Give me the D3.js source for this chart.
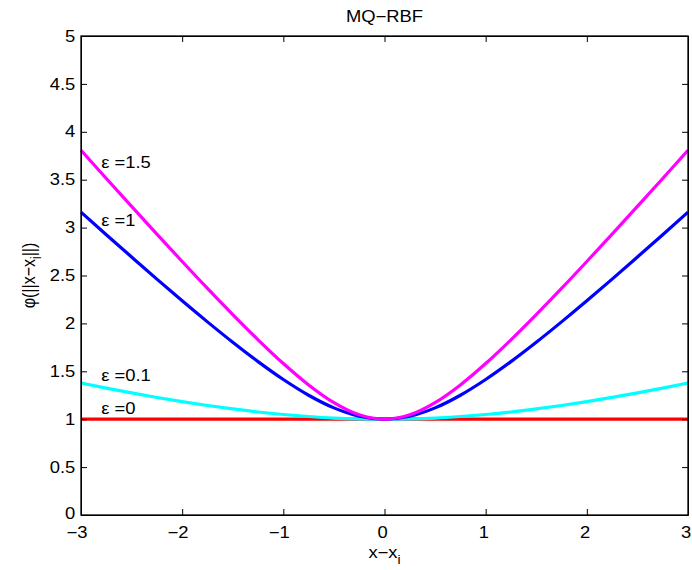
<!DOCTYPE html>
<html><head><meta charset="utf-8">
<script src="https://cdn.jsdelivr.net/npm/d3@7"></script>
<style>body{margin:0;background:#fff}svg{display:block}text{font-family:"Liberation Sans",Arial,sans-serif}</style>
</head><body>
<svg id="c" width="692" height="570"></svg>
<script>
const xs = [-3,-2.75,-2.5,-2.25,-2,-1.75,-1.5,-1.25,-1,-0.75,-0.5,-0.25,0,0.25,0.5,0.75,1,1.25,1.5,1.75,2,2.25,2.5,2.75,3];
const half15 = [1,1.046,1.173,1.358,1.581,1.829,2.092,2.365,2.646,2.932,3.221,3.513,3.808];
const half1  = [1,1.031,1.118,1.25,1.414,1.601,1.803,2.016,2.236,2.462,2.693,2.926,3.162];
const half01 = [1,1.003,1.012,1.028,1.049,1.075,1.107,1.143,1.183,1.227,1.275,1.325,1.378];
const half0  = [1,1,1,1,1,1,1,1,1,1,1,1,1];
const mirror = h => h.slice(1).reverse().concat(h);
const seriesNames = ["ε =0","ε =0.1","ε =1","ε =1.5"];
const seriesColors = ["#ff0000","#00ffff","#0000ff","#ff00ff"];
const seriesValues = [mirror(half0), mirror(half01), mirror(half1), mirror(half15)];
const labelPos = [[-2.8,1.05],[-2.8,1.4],[-2.8,3.02],[-2.8,3.62]];
const xTicks = [-3,-2,-1,0,1,2,3];
const yTicks = [0,0.5,1,1.5,2,2.5,3,3.5,4,4.5,5];

const SX = 1.15, FS = 16;
const svg = d3.select("#c");
const L=81, R=688, T=36, B=515;
const x = d3.scaleLinear().domain([-3,3]).range([L,R]);
const y = d3.scaleLinear().domain([0,5]).range([B,T]);
const fmt = d => (d<0?"\u2212":"")+Math.abs(d);

const line = d3.line().x((d,i)=>x(xs[i])).y(d=>y(d)).curve(d3.curveMonotoneX);
seriesValues.forEach((v,k)=>{
  svg.append("path").attr("d",line(v)).attr("fill","none")
    .attr("stroke",seriesColors[k]).attr("stroke-width",3.2);
});

const axStyle = g => {
  g.selectAll("path").attr("stroke","#000");
  g.selectAll("line").attr("stroke","#000");
  g.selectAll("text").attr("font-size",FS).attr("fill","#000")
   .attr("font-family","Liberation Sans, Arial, sans-serif")
   .attr("transform",`scale(${SX},1)`);
};
const gb = svg.append("g").attr("transform",`translate(0,${B})`)
  .call(d3.axisBottom(x).tickValues(xTicks).tickFormat(fmt).tickSizeInner(-6).tickSizeOuter(0).tickPadding(12)).call(axStyle);
gb.selectAll("text").attr("dx",d=>d<0?-4:-2);
svg.append("g").attr("transform",`translate(0,${T})`)
  .call(d3.axisTop(x).tickValues(xTicks).tickFormat("").tickSizeInner(-6).tickSizeOuter(0)).call(axStyle);
const gl = svg.append("g").attr("transform",`translate(${L},0)`)
  .call(d3.axisLeft(y).tickValues(yTicks).tickFormat(d=>String(d)).tickSizeInner(-6).tickSizeOuter(0).tickPadding(5)).call(axStyle);
gl.selectAll("text").filter(d=>d===0).attr("dy","0.2em");
svg.append("g").attr("transform",`translate(${R},0)`)
  .call(d3.axisRight(y).tickValues(yTicks).tickFormat("").tickSizeInner(-6).tickSizeOuter(0)).call(axStyle);
svg.append("rect").attr("x",L).attr("y",T).attr("width",R-L).attr("height",B-T)
  .attr("fill","none").attr("stroke","#000").attr("stroke-width",1.3);

seriesNames.forEach((n,k)=>{
  svg.append("text").attr("transform",`translate(${x(labelPos[k][0])},${y(labelPos[k][1])}) scale(${SX},1)`)
    .attr("font-size",FS).text(n);
});

svg.append("text").attr("transform",`translate(${(L+R)/2},22) scale(${SX},1)`)
  .attr("text-anchor","middle").attr("font-size",FS).text("MQ\u2212RBF");

const xl = svg.append("text").attr("transform",`translate(${(L+R)/2},558) scale(${SX},1)`)
  .attr("text-anchor","middle").attr("font-size",FS);
xl.append("tspan").text("x\u2212x");
xl.append("tspan").attr("dy",6).attr("font-size",12).text("i");

const yl = svg.append("text").attr("transform",`translate(35,${(T+B)/2}) scale(${SX},1) rotate(-90)`)
  .attr("text-anchor","middle").attr("font-size",FS);
yl.append("tspan").text("\u03c6(||x\u2212x");
yl.append("tspan").attr("dy",5).attr("font-size",12).text("i");
yl.append("tspan").attr("dy",-5).text("||)");
</script>
</body></html>
